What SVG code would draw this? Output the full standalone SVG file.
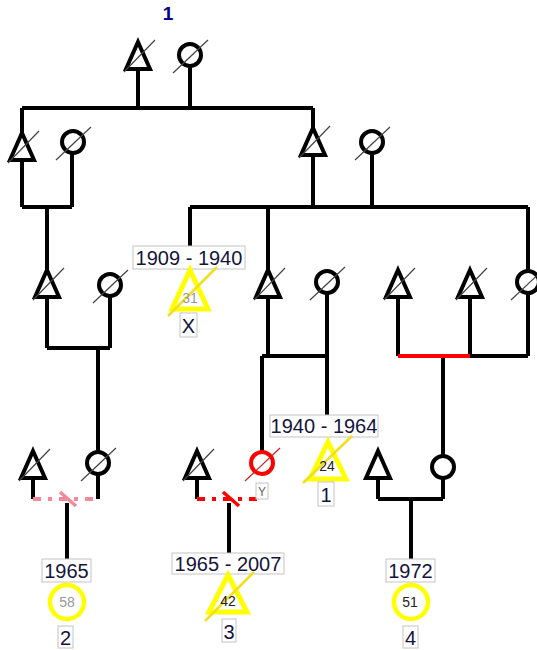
<svg xmlns="http://www.w3.org/2000/svg" xmlns:xlink="http://www.w3.org/1999/xlink" width="537" height="650" viewBox="0 0 537 650">
<style>
.ln{stroke:#000;stroke-width:4;fill:none}
.sym{stroke:#000;stroke-width:4;fill:#fff;stroke-linejoin:miter}
.sl{stroke:#444;stroke-width:1.2}
.box{fill:#fff;stroke:#c4c4c4;stroke-width:1}
.t20{font-family:"Liberation Sans",Arial,sans-serif;font-size:20px;fill:#14143c;text-anchor:middle}
.t13{font-family:"Liberation Sans",Arial,sans-serif;font-size:14px;text-anchor:middle}
.yel{stroke:#ffff00;stroke-width:5;fill:#fff;stroke-linejoin:miter}
.ysl{stroke:#f0e020;stroke-width:2.5}
.title{font-family:"Liberation Sans",Arial,sans-serif;font-size:19px;font-weight:bold;fill:#00008b;text-anchor:middle}
</style>
<defs>
<path id="tri" d="M0,0 L12,27 L-12,27 Z"/>
<circle id="cir" cx="0" cy="0" r="11"/>
<line id="tsl" x1="-14" y1="30" x2="17" y2="-2"/>
<line id="csl" x1="-17" y1="18" x2="18" y2="-15"/>
</defs>

<text class="title" x="168" y="20">1</text>

<g id="connectors">
  <!-- gen1 -->
  <path class="ln" d="M138,69 V108 M190,66 V108 M22,108 H313"/>
  <!-- gen2 left -->
  <path class="ln" d="M22,108 V133 M22,160 V207 M72,153 V207 M22,207 H72 M47,207 V270"/>
  <!-- gen2 right -->
  <path class="ln" d="M313,108 V128 M313,155 V207 M372,153 V207 M190,207 H528 M190,207 V246 M268,207 V270 M528,207 V271"/>
  <!-- gen3 left -->
  <path class="ln" d="M47,297 V348 M110,296 V348 M47,348 H110 M98,348 V452"/>
  <!-- gen3 middle -->
  <path class="ln" d="M268,297 V356 M327,293 V356 M262,356 H327 M262,356 V452 M327,356 V415"/>
  <!-- gen3 right -->
  <path class="ln" d="M398,297 V356 M470,297 V356 M528,293 V356 M470,356 H528 M443,356 V456"/>
  <line x1="398" y1="356" x2="470" y2="356" stroke="#f00" stroke-width="4"/>
  <!-- gen4 left -->
  <path class="ln" d="M33,478 V499 M98,475 V499 M67,503 V559"/>
  <line x1="33" y1="499" x2="98" y2="499" stroke="#f4899a" stroke-width="4" stroke-dasharray="8 7 4 7"/>
  <line x1="60" y1="492" x2="76" y2="506" stroke="#f4899a" stroke-width="3.5"/>
  <!-- gen4 middle -->
  <path class="ln" d="M197,478 V499 M229,503 V553"/>
  <line x1="197" y1="499" x2="258" y2="499" stroke="#f00" stroke-width="4" stroke-dasharray="8 7 4 7"/>
  <line x1="223" y1="492" x2="239" y2="506" stroke="#f00" stroke-width="3.5"/>
  <!-- gen4 right -->
  <path class="ln" d="M378,478 V499 M443,479 V499 M378,499 H443 M411,499 V559"/>
</g>

<g id="n_g1_m"><use href="#tri" class="sym" x="138" y="42"/><use href="#tsl" class="sl" x="138" y="42"/></g>
<g id="n_g1_f"><use href="#cir" class="sym" x="190" y="55"/><use href="#csl" class="sl" x="190" y="55"/></g>

<g id="n_g2l_m"><use href="#tri" class="sym" x="22" y="133"/><use href="#tsl" class="sl" x="22" y="133"/></g>
<g id="n_g2l_f"><use href="#cir" class="sym" x="73" y="142"/><use href="#csl" class="sl" x="73" y="142"/></g>
<g id="n_g2r_m"><use href="#tri" class="sym" x="313" y="128"/><use href="#tsl" class="sl" x="313" y="128"/></g>
<g id="n_g2r_f"><use href="#cir" class="sym" x="372" y="142"/><use href="#csl" class="sl" x="372" y="142"/></g>

<g id="n_g3_a"><use href="#tri" class="sym" x="47" y="270"/><use href="#tsl" class="sl" x="47" y="270"/></g>
<g id="n_g3_b"><use href="#cir" class="sym" x="110" y="285"/><use href="#csl" class="sl" x="110" y="285"/></g>

<g id="n_X">
  <rect class="box" x="133" y="246" width="112" height="23"/>
  <text class="t20" x="189" y="265">1909 - 1940</text>
  <path class="yel" d="M190,270 L208,309 L172,309 Z"/>
  <line class="ysl" x1="168" y1="316" x2="217" y2="267"/>
  <text class="t13" x="190" y="303" fill="#999">31</text>
  <rect class="box" x="180" y="313" width="17" height="24"/>
  <text class="t20" x="188.5" y="333">X</text>
</g>

<g id="n_g3_c"><use href="#tri" class="sym" x="268" y="270"/><use href="#tsl" class="sl" x="268" y="270"/></g>
<g id="n_g3_d"><use href="#cir" class="sym" x="327" y="282"/><use href="#csl" class="sl" x="327" y="282"/></g>
<g id="n_g3_e"><use href="#tri" class="sym" x="398" y="270"/><use href="#tsl" class="sl" x="398" y="270"/></g>
<g id="n_g3_f"><use href="#tri" class="sym" x="470" y="270"/><use href="#tsl" class="sl" x="470" y="270"/></g>
<g id="n_g3_g"><use href="#cir" class="sym" x="528" y="282"/><use href="#csl" class="sl" x="528" y="282"/></g>

<g id="n_1">
  <rect class="box" x="270" y="415" width="108" height="22"/>
  <text class="t20" x="324" y="433">1940 - 1964</text>
  <path class="yel" d="M328,442 L346,479 L310,479 Z"/>
  <line class="ysl" x1="303" y1="483" x2="352" y2="436"/>
  <text class="t13" x="327" y="471" fill="#222">24</text>
  <rect class="box" x="318" y="482" width="16" height="24"/>
  <text class="t20" x="326" y="502">1</text>
</g>

<g id="n_g4_a"><use href="#tri" class="sym" x="33" y="451"/><use href="#tsl" class="sl" x="33" y="451"/></g>
<g id="n_g4_b"><use href="#cir" class="sym" x="98" y="463"/><use href="#csl" class="sl" x="98" y="463"/></g>
<g id="n_g4_c"><use href="#tri" class="sym" x="197" y="451"/><use href="#tsl" class="sl" x="197" y="451"/></g>
<g id="n_Y">
  <circle cx="262" cy="463" r="11" fill="#fff" stroke="#f00" stroke-width="4"/>
  <line x1="245" y1="481" x2="280" y2="448" stroke="#d02020" stroke-width="1.2"/>
  <rect class="box" x="256" y="483" width="12" height="16"/>
  <text x="262" y="496" font-family="Liberation Sans,Arial,sans-serif" font-size="12" fill="#666" text-anchor="middle">Y</text>
</g>
<g id="n_g4_e"><use href="#tri" class="sym" x="378" y="451"/></g>
<g id="n_g4_f"><use href="#cir" class="sym" x="443" y="467"/></g>

<g id="n_2">
  <rect class="box" x="42" y="559" width="49" height="23"/>
  <text class="t20" x="66.5" y="578">1965</text>
  <circle cx="67" cy="602" r="17" fill="#fff" stroke="#ffff00" stroke-width="4.5"/>
  <text class="t13" x="67" y="607" fill="#999">58</text>
  <rect class="box" x="58" y="626" width="15" height="22"/>
  <text class="t20" x="65.5" y="645">2</text>
</g>

<g id="n_3">
  <rect class="box" x="172" y="553" width="112" height="21"/>
  <text class="t20" x="228" y="571">1965 - 2007</text>
  <path class="yel" d="M228,575 L247,612 L209,612 Z"/>
  <line class="ysl" x1="205" y1="621" x2="254" y2="572"/>
  <text class="t13" x="228" y="606" fill="#222">42</text>
  <rect class="box" x="222" y="619" width="14" height="23"/>
  <text class="t20" x="229" y="639">3</text>
</g>

<g id="n_4">
  <rect class="box" x="386" y="559" width="49" height="23"/>
  <text class="t20" x="410.5" y="578">1972</text>
  <circle cx="411" cy="602" r="17" fill="#fff" stroke="#ffff00" stroke-width="4.5"/>
  <text class="t13" x="410" y="607" fill="#222">51</text>
  <rect class="box" x="403" y="626" width="15" height="22"/>
  <text class="t20" x="410.5" y="645">4</text>
</g>
</svg>
